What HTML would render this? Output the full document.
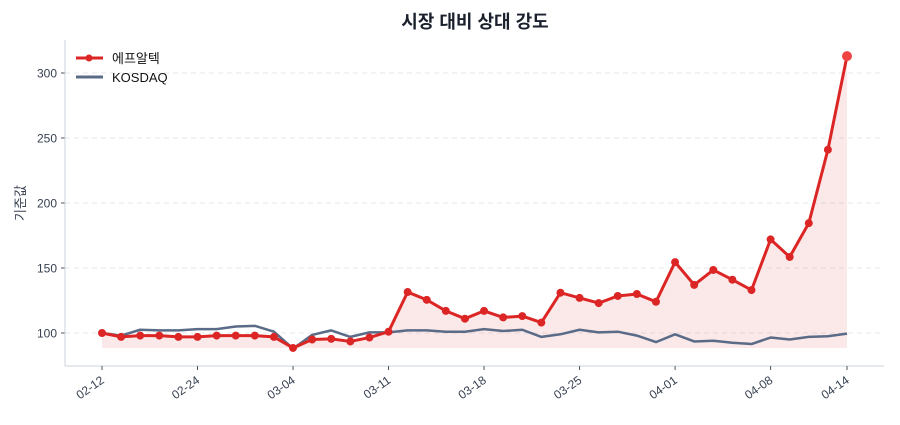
<!DOCTYPE html>
<html><head><meta charset="utf-8"><style>
body{margin:0;background:#fff;}
svg text{font-family:"Liberation Sans","Noto Sans CJK KR",sans-serif;}
</style></head><body>
<svg id="chart" width="900" height="420" viewBox="0 0 900 420" xmlns="http://www.w3.org/2000/svg">
<text x="475" y="28" text-anchor="middle" font-size="18" font-weight="bold" fill="#1a202c">시장 대비 상대 강도</text>
<text transform="translate(25,203) rotate(-90)" text-anchor="middle" font-size="13" fill="#374151">기준값</text>
<g id="grid"></g>
<g id="axes"></g>
<g id="series"></g>
<g>
<line x1="76" y1="58" x2="103" y2="58" stroke="#dc2626" stroke-width="3"/>
<circle cx="89" cy="58" r="3.5" fill="#dc2626"/>
<text x="112" y="63" font-size="13" fill="#111">에프알텍</text>
<line x1="76" y1="77" x2="103" y2="77" stroke="#5a6b87" stroke-width="3"/>
<text x="112" y="82" font-size="13" fill="#111">KOSDAQ</text>
</g>
</svg>
<script>
const company=[100,97,98,98,97,97,98,98,98,97,88.5,95,95.5,93.5,96.5,101,131.5,125.5,117,111,117,112,113,108,131,127,123,128.5,130,124,154.5,137,148.5,141,133,172,158.5,184.5,241,313];
const kosdaq=[100,98,102.5,102,102,103,103,105,105.5,101,88,98.5,102,97,100.5,100.5,102,102,101,101,103,101.5,102.5,97,99,102.5,100.5,101,98,93,99,93.5,94,92.5,91.5,96.5,95,97,97.5,99.5];
const tickIdx=[0,5,10,15,20,25,30,35,39];
const tickLabels=["02-12","02-24","03-04","03-11","03-18","03-25","04-01","04-08","04-14"];
const yTicks=[100,150,200,250,300];
const NS="http://www.w3.org/2000/svg";
const x0=102,x1=847,L=65,R=884,T=40,B=366;
const xs=i=>x0+(x1-x0)*i/(company.length-1);
const ys=v=>333-(v-100)*1.3;
function mk(tag,attrs,parent){const e=document.createElementNS(NS,tag);for(const k in attrs)e.setAttribute(k,attrs[k]);parent.appendChild(e);return e;}
const grid=document.getElementById('grid'),axes=document.getElementById('axes'),ser=document.getElementById('series');
yTicks.forEach(v=>{
 const g=mk('line',{x1:L,x2:R,y1:ys(v),y2:ys(v),stroke:'#e5e7eb','stroke-dasharray':'5,4'},grid);
 
 
 mk('line',{x1:L-4,x2:L,y1:ys(v),y2:ys(v),stroke:'#4b5563'},axes);
 const t=mk('text',{x:L-8,y:ys(v)+4.5,'text-anchor':'end','font-size':'12',fill:'#374151'},axes);
 t.textContent=v;
 
 
});
mk('line',{x1:L,x2:L,y1:T,y2:B,stroke:'#cbd0d8'},axes);
mk('line',{x1:L,x2:R,y1:B,y2:B,stroke:'#cbd0d8'},axes);
tickIdx.forEach((i,k)=>{
 const x=xs(i);
 mk('line',{x1:x,x2:x,y1:B,y2:B+4,stroke:'#4b5563'},axes);
 const t=mk('text',{x:x+3,y:B+16,'text-anchor':'end','font-size':'12',fill:'#374151',transform:`rotate(-35 ${x+3} ${B+16})`},axes);
 t.textContent=tickLabels[k];
 
 
});
const minV=Math.min(...company);
let area=`M${xs(0)},${ys(minV)}`;
company.forEach((v,i)=>area+=` L${xs(i)},${ys(v)}`);
area+=` L${xs(company.length-1)},${ys(minV)} Z`;
const a=mk('path',{d:area,fill:'#dc2626','fill-opacity':'0.1'},ser);


const k=mk('polyline',{points:kosdaq.map((v,i)=>xs(i)+','+ys(v)).join(' '),fill:'none',stroke:'#5a6b87','stroke-width':'2.5','stroke-linejoin':'round'},ser);


const c=mk('polyline',{points:company.map((v,i)=>xs(i)+','+ys(v)).join(' '),fill:'none',stroke:'#dc2626','stroke-width':'3','stroke-linejoin':'round'},ser);


company.forEach((v,i)=>{
 const last=i===company.length-1;
 const p=mk('circle',{cx:xs(i),cy:ys(v),r:last?5:4,fill:last?'#ef4444':'#dc2626'},ser);
 
 
});
</script>
</body></html>
